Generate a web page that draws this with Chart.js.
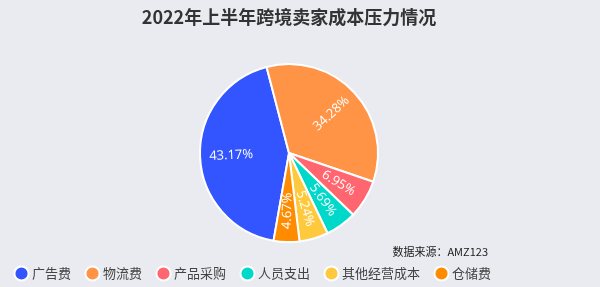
<!DOCTYPE html>
<html>
<head>
<meta charset="utf-8">
<script src="https://cdn.jsdelivr.net/npm/chart.js@4/dist/chart.umd.min.js"></script>
<style>
  html, body { margin: 0; padding: 0; background: #eaebf0; }
  #wrap { position: relative; width: 600px; height: 287px; }
  #source {
    position: absolute; right: 112px; top: 243px;
    font: 11px "Noto Sans CJK SC", "Noto Sans", sans-serif; color: #1a1a1a;
  }
</style>
</head>
<body>
<div id="wrap">
  <canvas id="myChart" width="600" height="287"></canvas>
  <div id="source">数据来源：AMZ123</div>
</div>
<script>
const ctx = document.getElementById('myChart').getContext('2d');

// Categories and shares (percent)
const categories = ['广告费', '物流费', '产品采购', '人员支出', '其他经营成本', '仓储费'];
const shares = [43.17, 34.28, 6.95, 5.69, 5.24, 4.67];
const colors = ['#3355ff', '#ff9447', '#ff666f', '#00d9c9', '#ffc93d', '#ff8c00'];

// Draw the percent text inside each slice, turned along the radius
const sliceLabels = {
    id: 'sliceLabels',
    afterDatasetsDraw(chart) {
        const c = chart.ctx;
        const meta = chart.getDatasetMeta(0);
        c.save();
        c.fillStyle = '#ffffff';
        c.font = '13px "Open Sans", "Noto Sans", sans-serif';
        c.textAlign = 'center';
        c.textBaseline = 'middle';
        meta.data.forEach((arc, i) => {
            const p = arc.getProps(['x', 'y', 'startAngle', 'endAngle', 'outerRadius']);
            const mid = (p.startAngle + p.endAngle) / 2;
            const r = p.outerRadius * 0.65;
            const x = p.x + Math.cos(mid) * r;
            const y = p.y + Math.sin(mid) * r;
            let rot = Math.atan2(Math.sin(mid), Math.cos(mid));
            if (rot > Math.PI / 2) rot -= Math.PI;
            if (rot < -Math.PI / 2) rot += Math.PI;
            c.save();
            c.translate(x, y);
            c.rotate(rot);
            c.fillText(shares[i].toFixed(2) + '%', 0, 0);
            c.restore();
        });
        c.restore();
    }
};

new Chart(ctx, {
    type: 'pie',
    data: {
        labels: categories,
        datasets: [{
            data: shares,
            backgroundColor: colors,
            borderColor: '#ffffff',
            borderWidth: 2,
            radius: 89
        }]
    },
    options: {
        responsive: false,
        animation: false,
        rotation: 190,
        layout: {
            padding: { top: 0, left: 0, right: 22, bottom: -3 }
        },
        plugins: {
            title: {
                display: true,
                text: '2022年上半年跨境卖家成本压力情况',
                color: '#333333',
                font: { family: '"Noto Sans CJK SC", sans-serif', size: 18, weight: 'bold' },
                padding: { top: 6, bottom: 29 }
            },
            legend: {
                position: 'bottom',
                align: 'start',
                labels: {
                    usePointStyle: true,
                    pointStyle: 'circle',
                    boxWidth: 8,
                    boxHeight: 10,
                    padding: 17.5,
                    color: '#444444',
                    font: { family: '"Noto Sans CJK SC", sans-serif', size: 13 }
                }
            },
            tooltip: { enabled: false }
        }
    },
    plugins: [sliceLabels]
});
</script>
</body>
</html>
